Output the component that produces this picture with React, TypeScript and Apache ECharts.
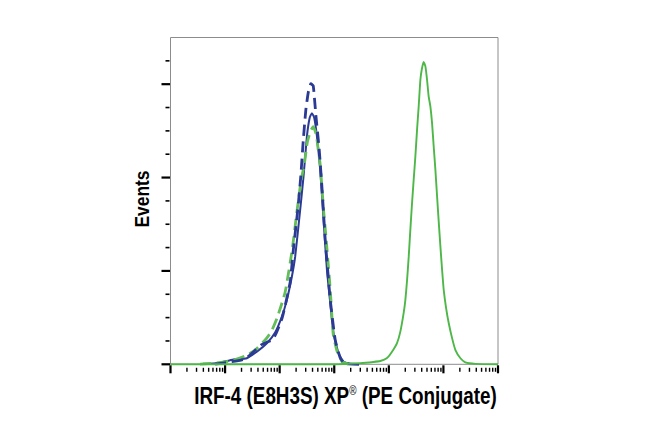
import React, { useEffect, useRef } from "react";
import * as echarts from "echarts";

// x values are log10 of intensity (decades 0..6), y values are event counts (axis 0..140)
const blueSolid: [number, number][] = [
  [0.596, 0.2], [0.78, 0.3], [0.908, 0.7], [1.152, 2.1], [1.398, 2.6], [1.582, 5.4],
  [1.765, 9.0], [1.917, 13.6], [2.04, 20.4], [2.132, 27.6], [2.224, 37.6], [2.284, 46.1],
  [2.376, 66.2], [2.437, 80.4], [2.499, 97.6], [2.55, 105.6], [2.591, 107.6], [2.633, 105.6],
  [2.683, 97.6], [2.743, 83.3], [2.804, 61.9], [2.866, 40.4], [2.927, 26.2], [2.987, 13.3],
  [3.079, 4.7], [3.171, 1.1], [3.29, 0.1],
];

const blueDashed: [number, number][] = [
  [0.817, 0.1], [1.092, 1.0], [1.367, 2.3], [1.661, 8.3], [1.881, 10.8], [2.046, 19.9],
  [2.193, 35.3], [2.25, 49.0], [2.332, 66.2], [2.387, 80.6], [2.433, 96.1], [2.479, 108.9],
  [2.525, 116.6], [2.571, 120.2], [2.615, 119.3], [2.664, 106.5], [2.725, 91.9], [2.774, 76.0],
  [2.835, 53.3], [2.927, 27.6], [3.018, 10.4], [3.11, 2.7], [3.202, 0.3], [3.5, 0],
];

const greenDashed: [number, number][] = [
  [0.541, 0.1], [0.817, 0.5], [1.092, 1.4], [1.367, 3.6], [1.55, 6.1], [1.734, 10.4],
  [1.844, 13.9], [1.954, 19.9], [2.101, 31.0], [2.229, 49.0], [2.321, 66.2], [2.394, 79.0],
  [2.45, 85.5], [2.505, 94.9], [2.56, 99.6], [2.615, 101.8], [2.67, 98.4], [2.706, 92.0],
  [2.743, 85.5], [2.804, 66.2], [2.853, 53.3], [2.927, 31.9], [2.982, 12.6], [3.055, 5.3],
  [3.147, 1.0], [3.257, 0.1],
];

const greenSolid: [number, number][] = [
  [0, 0], [3.0, 0], [3.477, 0.5], [3.716, 1.0], [3.844, 1.4], [3.967, 2.7], [4.058, 5.4],
  [4.15, 9.1], [4.211, 14.0], [4.272, 22.0], [4.303, 27.6], [4.334, 36.0], [4.364, 46.0],
  [4.394, 57.6], [4.425, 69.0], [4.455, 79.0], [4.486, 89.0], [4.517, 100.5], [4.547, 110.5],
  [4.578, 121.9], [4.605, 126.5], [4.638, 129.5], [4.67, 127.6], [4.7, 121.9], [4.73, 114.7],
  [4.761, 110.5], [4.792, 103.3], [4.822, 93.3], [4.853, 83.3], [4.884, 71.9], [4.914, 61.1],
  [4.945, 50.4], [4.976, 40.4], [5.006, 31.8], [5.05, 24.0], [5.097, 17.7], [5.16, 11.1],
  [5.22, 6.1], [5.312, 2.6], [5.404, 0.8], [5.59, 0.2], [6, 0],
];

const xMajorDecades = [0, 1, 2, 3, 4, 5, 6];
const xMinorMultipliers = [2, 3, 4, 5, 6, 7, 8, 9];
const yMajorTicks = [0, 40, 80, 120];
const yMinorTicks = [10, 20, 30, 50, 60, 70, 90, 100, 110, 130];

const xTitle = "IRF-4 (E8H3S) XP";
const xTitleMark = "®";
const xTitleEnd = " (PE Conjugate)";
const yTitle = "Events";

const BLUE = "#2b3a94";
const GREEN = "#4db748";
const GREEN_DASH = "#63bd58";

export default function App() {
  const ref = useRef<HTMLDivElement>(null);
  useEffect(() => {
    if (!ref.current) return;
    const chart = echarts.init(ref.current, undefined, { renderer: "svg" });

    const xMinor: [number, number][] = [];
    xMajorDecades.slice(0, -1).forEach((d) => {
      xMinorMultipliers.forEach((m) => xMinor.push([d + Math.log10(m), 0]));
    });
    const xMajor: [number, number][] = xMajorDecades.map((d) => [d, 0]);
    const yMajor: [number, number][] = yMajorTicks.map((v) => [0, v]);
    const yMinor: [number, number][] = yMinorTicks.map((v) => [0, v]);

    const tickSeries = (
      data: [number, number][],
      horizontal: boolean,
      from: number,
      to: number,
      width: number
    ) => ({
      type: "custom",
      silent: true,
      clip: false,
      z: 10,
      data,
      renderItem: (_p: any, api: any) => {
        const pt = api.coord([api.value(0), api.value(1)]);
        return horizontal
          ? {
              type: "line",
              shape: { x1: pt[0] - from, y1: pt[1], x2: pt[0] - to, y2: pt[1] },
              style: { stroke: "#000", lineWidth: width },
            }
          : {
              type: "line",
              shape: { x1: pt[0], y1: pt[1] + from, x2: pt[0], y2: pt[1] + to },
              style: { stroke: "#000", lineWidth: width },
            };
      },
    });

    const lineSeries = (
      data: [number, number][],
      color: string,
      width: number,
      dashed: boolean,
      z: number
    ) => ({
      type: "line",
      data,
      z,
      showSymbol: false,
      symbol: "none",
      smooth: 0.15,
      clip: false,
      lineStyle: {
        color,
        width,
        type: dashed ? [11, 6] : "solid",
        cap: "butt",
      },
    });

    chart.setOption({
      animation: false,
      backgroundColor: "#ffffff",
      grid: {
        left: 170.5,
        right: 152,
        top: 37.5,
        bottom: 73.7,
        show: true,
        borderColor: "#8c8c8c",
        borderWidth: 1,
      },
      xAxis: {
        type: "value",
        min: 0,
        max: 6,
        axisLine: { show: false },
        axisTick: { show: false },
        axisLabel: { show: false },
        splitLine: { show: false },
      },
      yAxis: {
        type: "value",
        min: 0,
        max: 140,
        axisLine: { show: false },
        axisTick: { show: false },
        axisLabel: { show: false },
        splitLine: { show: false },
      },
      series: [
        lineSeries(blueSolid, BLUE, 2, false, 2),
        lineSeries(greenDashed, GREEN_DASH, 2.8, true, 3),
        lineSeries(blueDashed, BLUE, 2.8, true, 4),
        lineSeries(greenSolid, GREEN, 1.9, false, 5),
        tickSeries(xMajor, false, 1, 9, 2.2),
        tickSeries(xMinor, false, 3.5, 7.5, 1.4),
        tickSeries(yMajor, true, 0.5, 9, 2.2),
        tickSeries(yMinor, true, 1, 5, 1.6),
      ],
      graphic: [
        {
          type: "text",
          x: 142.5,
          y: 199,
          rotation: Math.PI / 2,
          scaleX: 0.87,
          style: {
            text: yTitle,
            fontFamily: "Liberation Sans, Arial, sans-serif",
            fontWeight: "bold",
            fontSize: 20,
            fill: "#000",
            align: "center",
            verticalAlign: "middle",
          },
        },
        {
          type: "text",
          x: 345.5,
          y: 396,
          scaleX: 0.82,
          style: {
            text: `{a|${xTitle}}{r|${xTitleMark}}{a|${xTitleEnd}}`,
            align: "center",
            verticalAlign: "middle",
            rich: {
              a: {
                fontFamily: "Liberation Sans, Arial, sans-serif",
                fontWeight: "bold",
                fontSize: 23,
                fill: "#000",
              },
              r: {
                fontFamily: "Liberation Sans, Arial, sans-serif",
                fontWeight: "normal",
                fontSize: 12,
                fill: "#000",
                verticalAlign: "top",
              },
            },
          },
        },
      ],
    });
    return () => chart.dispose();
  }, []);
  return (
    <div
      ref={ref}
      style={{ position: "fixed", left: 0, top: 0, width: 650, height: 438, background: "#fff" }}
    />
  );
}
